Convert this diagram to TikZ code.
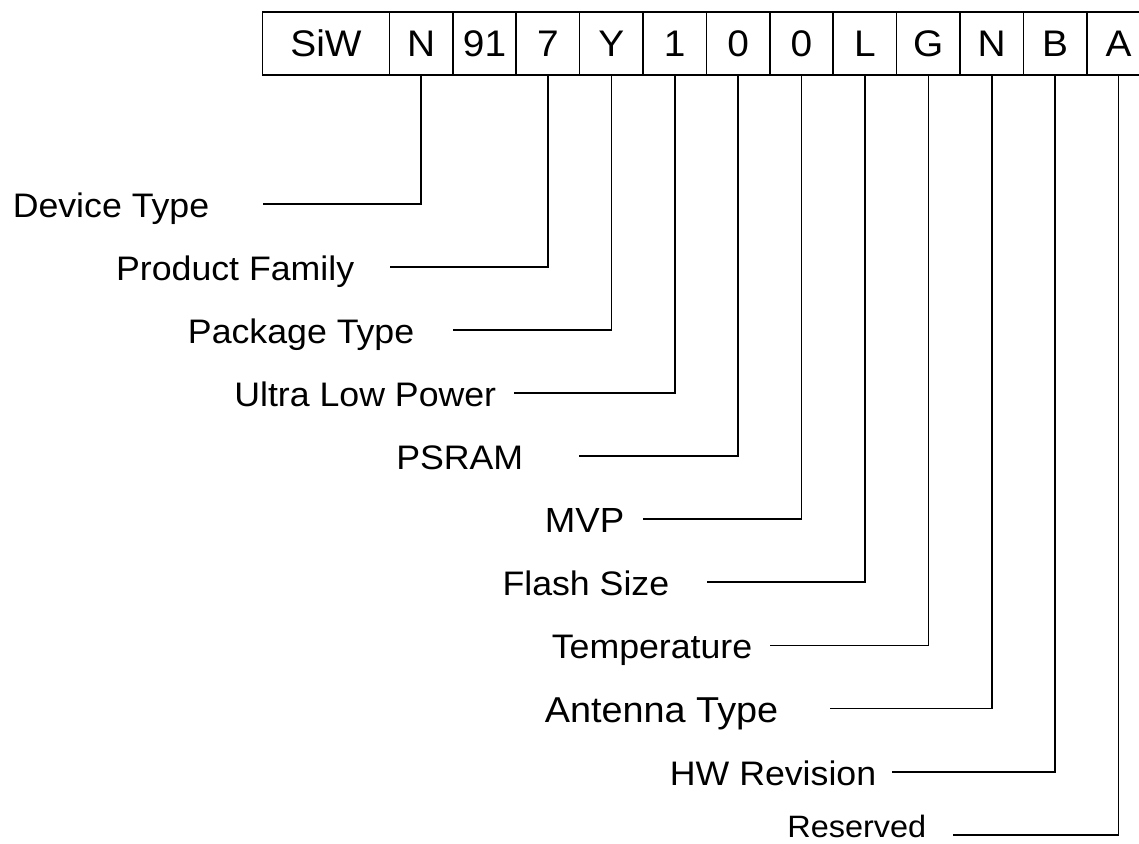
\documentclass[tikz,border=0pt]{standalone}
\usepackage{fontspec}
\usetikzlibrary{positioning}
\newfontfamily\FieldFont{Liberation Sans}[FakeStretch=1.05]

\begin{document}
\begin{tikzpicture}[
      x=1pt,y=-1pt,line width=1.6pt,
      cell/.style={draw,minimum width=63.4pt,minimum height=63pt,inner sep=0pt,
        outer sep=0pt,font=\FieldFont\fontsize{37}{40}\selectfont},
      field/.style={inner sep=0pt,anchor=east,text height=24.3pt,text depth=0pt,
        font=\FieldFont\fontsize{34}{37}\selectfont},
      lead/.style={line width=1.6pt,color=black}
    ]
      \useasboundingbox (0,0) rectangle (1139,843);
      \node[cell,minimum width=126.8pt] (siw) at (326,43.5) {SiW};
      \node[cell,right=0pt of siw] (dev) {N};
      \node[cell,right=0pt of dev] (ser) {91};
      \node[cell,right=0pt of ser] (fam) {7};
      \node[cell,right=0pt of fam] (pkg) {Y};
      \node[cell,right=0pt of pkg] (ulp) {1};
      \node[cell,right=0pt of ulp] (psr) {0};
      \node[cell,right=0pt of psr] (mvp) {0};
      \node[cell,right=0pt of mvp] (fls) {L};
      \node[cell,right=0pt of fls] (tmp) {G};
      \node[cell,right=0pt of tmp] (ant) {N};
      \node[cell,right=0pt of ant] (hwr) {B};
      \node[cell,right=0pt of hwr] (rsv) {A};
      \node[field] (ldev) at (210,205) {Device Type};
      \node[field] (lfam) at (355,268) {Product Family};
      \node[field] (lpkg) at (415,331) {Package Type};
      \node[field] (lulp) at (497,394) {Ultra Low Power};
      \node[field] (lpsr) at (524,457) {PSRAM};
      \node[field,text height=25pt,font=\FieldFont\fontsize{34.9}{38}\selectfont]
        (lmvp) at (625,520) {MVP};
      \node[field] (lfls) at (670,583) {Flash Size};
      \node[field] (ltmp) at (753,646.5) {Temperature};
      \node[field,text height=25.8pt,font=\FieldFont\fontsize{36}{39}\selectfont]
        (lant) at (779,709.5) {Antenna Type};
      \node[field] (lhwr) at (877,773) {HW Revision};
      \node[field,text height=22.1pt,font=\FieldFont\fontsize{30.9}{34}\selectfont]
        (lrsv) at (927,826) {Reserved};
      \coordinate (pdev) at (263,204);
      \coordinate (pfam) at (390,267);
      \coordinate (ppkg) at (453,330);
      \coordinate (pulp) at (514,393);
      \coordinate (ppsr) at (579,456);
      \coordinate (pmvp) at (643,519);
      \coordinate (pfls) at (707,582);
      \coordinate (ptmp) at (770,645.5);
      \coordinate (pant) at (830,708.5);
      \coordinate (phwr) at (892,772);
      \coordinate (prsv) at (953,835);
      \draw[lead] (dev.south) |- (pdev);
      \draw[lead] (fam.south) |- (pfam);
      \draw[lead] (pkg.south) |- (ppkg);
      \draw[lead] (ulp.south) |- (pulp);
      \draw[lead] (psr.south) |- (ppsr);
      \draw[lead] (mvp.south) |- (pmvp);
      \draw[lead] (fls.south) |- (pfls);
      \draw[lead] (tmp.south) |- (ptmp);
      \draw[lead] (ant.south) |- (pant);
      \draw[lead] (hwr.south) |- (phwr);
      \draw[lead] (rsv.south) |- (prsv);
    \end{tikzpicture}
\end{document}
